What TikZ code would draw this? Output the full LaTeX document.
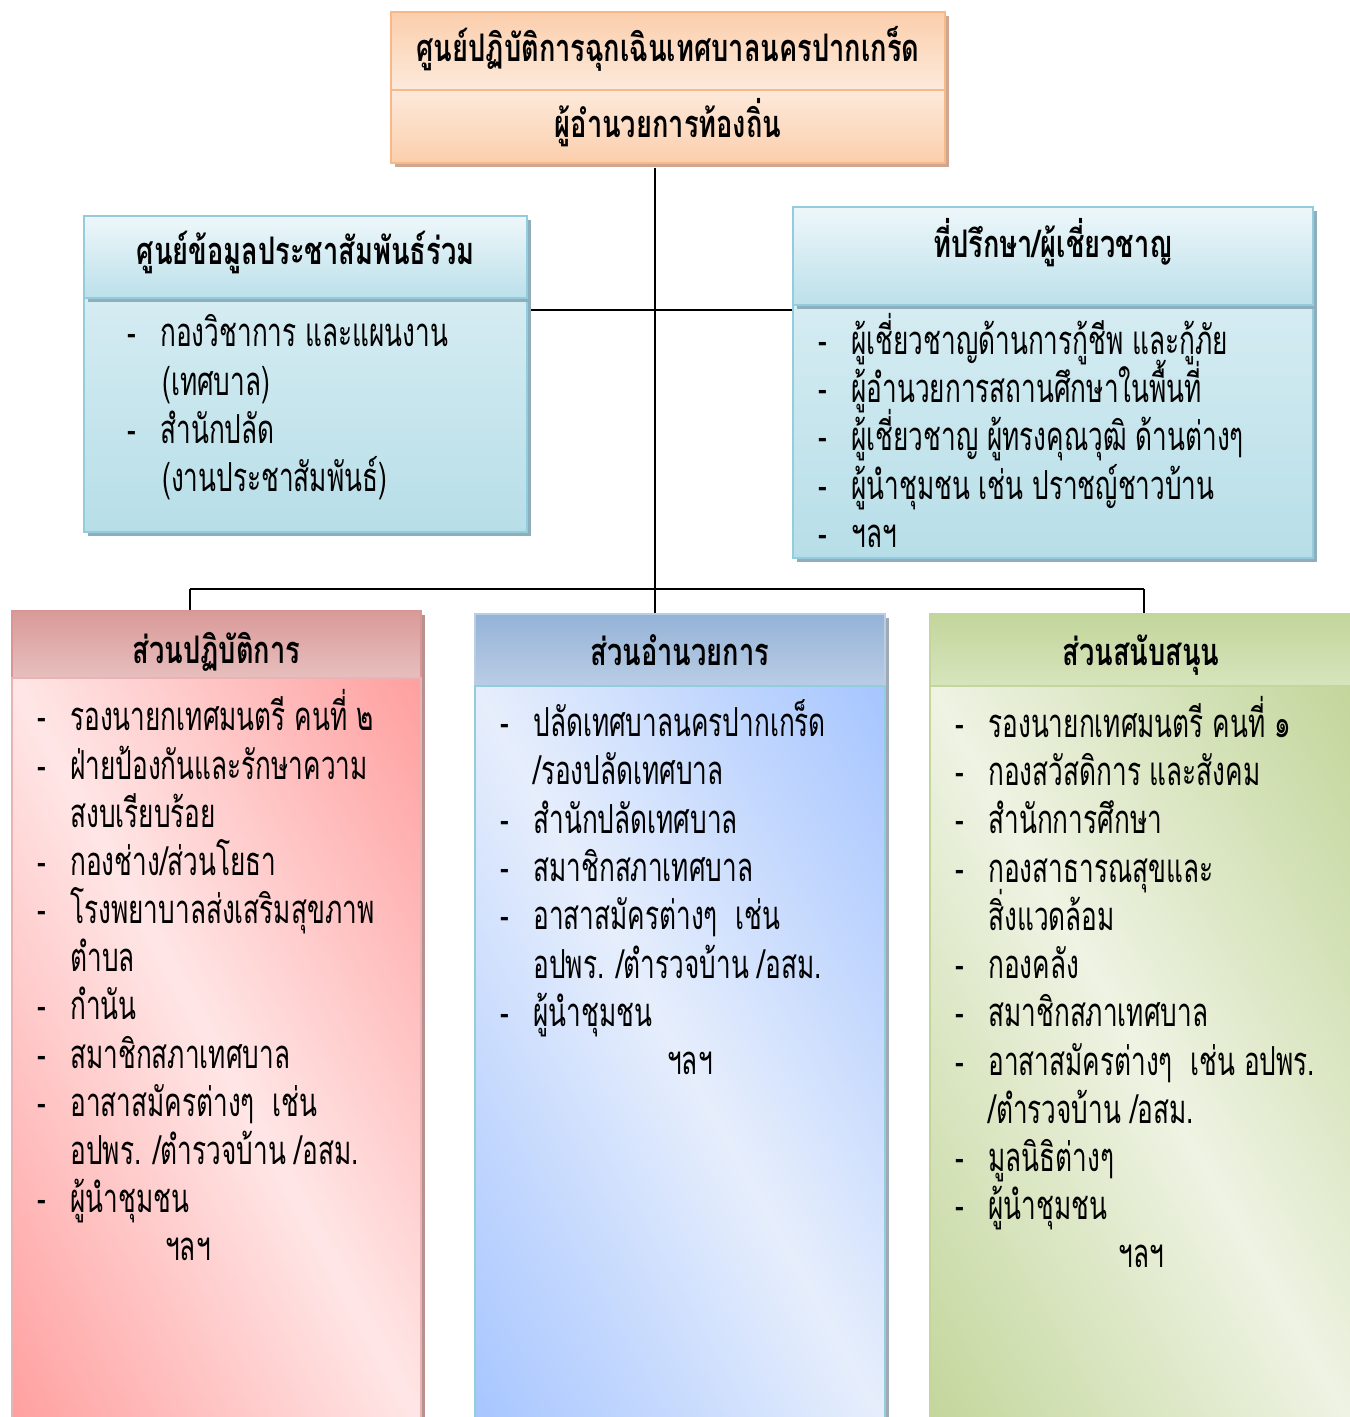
\documentclass[tikz,border=0pt]{standalone}
\usepackage{fontspec}
\setmainfont[Script=Thai]{Loma}
\newfontfamily\thai[Script=Thai,FakeStretch=0.655]{Loma}
\newfontfamily\thaih[Script=Thai,FakeStretch=0.717]{Loma}
\usetikzlibrary{fit}
\definecolor{pkB}{HTML}{F8B88A}
\definecolor{pkA}{HTML}{FBCEAC}
\definecolor{pkL}{HTML}{FDEADB}
\definecolor{pkS}{HTML}{CDA88E}
\definecolor{cyB}{HTML}{93CDDD}
\definecolor{cyL}{HTML}{EEF7FA}
\definecolor{cyH}{HTML}{BCE0EA}
\definecolor{cyT}{HTML}{D5ECF2}
\definecolor{cyM}{HTML}{B7DEE8}
\definecolor{cyS}{HTML}{8DAEBA}
\definecolor{rdB}{HTML}{D99694}
\definecolor{rdE}{HTML}{E8B4B3}
\definecolor{rdD}{HTML}{FF9F9F}
\definecolor{rdL}{HTML}{FFE6E6}
\definecolor{rhT}{HTML}{D99A98}
\definecolor{rhM}{HTML}{F2DCDB}
\definecolor{rhB}{HTML}{E7BFBE}
\definecolor{rdS}{HTML}{B8908F}
\definecolor{blB}{HTML}{92CDDC}
\definecolor{blD}{HTML}{A6C5FF}
\definecolor{blL}{HTML}{E6EEFC}
\definecolor{bhT}{HTML}{95B3D7}
\definecolor{bhM}{HTML}{DCE6F2}
\definecolor{bhB}{HTML}{B9CDE5}
\definecolor{blS}{HTML}{A0AAB5}
\definecolor{grB}{HTML}{C3D69B}
\definecolor{grD}{HTML}{C3D69B}
\definecolor{grL}{HTML}{EEF3E3}
\definecolor{ghT}{HTML}{C3D69B}
\definecolor{ghM}{HTML}{EBF1DE}
\definecolor{ghB}{HTML}{D7E4BD}
\tikzset{
  sect/.style={inner sep=0pt, line width=0.75pt},
  bodytxt/.style={font=\thai\fontsize{20}{24}\selectfont, anchor=base west, inner sep=0pt},
  headtxt/.style={font=\thaih\bfseries\fontsize{19}{22}\selectfont, anchor=base, inner sep=0pt},
  link/.style={line width=1pt, black}
}
\newcommand\itm[4]{\node[bodytxt] (#1) at (#2,#3) {\makebox[16.5pt][l]{-}#4};}
\newcommand\cnt[4]{\node[bodytxt] (#1) at (#2,#3) {#4};}
\begin{document}
\begin{tikzpicture}[x=0.5pt,y=-0.5pt]
\useasboundingbox (0,0) rectangle (1349,1417);
\fill[white] (0,0) rectangle (1349,1417);

% ---------- top box
\fill[pkS] (395,16) rectangle (949,94);
\node[sect, fit={(391,12)(945,90)}, draw=pkB, top color=pkA, bottom color=pkL] (topA) {};
\fill[pkS] (395,94) rectangle (949,167);
\node[sect, fit={(391,90)(945,163)}, draw=pkB, top color=pkL, bottom color=pkA] (topB) {};
\node[headtxt] (t1) at (668,62) {ศูนย์ปฏิบัติการฉุกเฉินเทศบาลนครปากเกร็ด};
\node[headtxt] (t2) at (668,138) {ผู้อำนวยการท้องถิ่น};

% ---------- left box
\fill[cyS] (88,302) rectangle (531,536);
\node[sect, fit={(84,298)(527,532)}, draw=cyB, top color=cyT, bottom color=cyM] (lB) {};
\fill[cyS] (88,220) rectangle (531,302);
\node[sect, fit={(84,216)(527,298)}, draw=cyB, top color=cyL, bottom color=cyH] (lH) {};
\node[headtxt] (lh) at (305.5,265) {ศูนย์ข้อมูลประชาสัมพันธ์ร่วม};
\itm{l1}{127}{347}{กองวิชาการ และแผนงาน}
\cnt{l2}{162}{395}{(เทศบาล)}
\itm{l3}{127}{443}{สำนักปลัด}
\cnt{l4}{162}{491}{(งานประชาสัมพันธ์)}

% ---------- right box
\fill[cyS] (797,309) rectangle (1317,562);
\node[sect, fit={(793,305)(1313,558)}, draw=cyB, top color=cyT, bottom color=cyM] (rB) {};
\fill[cyS] (797,211) rectangle (1317,309);
\node[sect, fit={(793,207)(1313,305)}, draw=cyB, top color=cyL, bottom color=cyH] (rH) {};
\node[headtxt] (rh) at (1053,258) {ที่ปรึกษา/ผู้เชี่ยวชาญ};
\itm{q1}{818}{354}{ผู้เชี่ยวชาญด้านการกู้ชีพ และกู้ภัย}
\itm{q2}{818}{402}{ผู้อำนวยการสถานศึกษาในพื้นที่}
\itm{q3}{818}{450}{ผู้เชี่ยวชาญ ผู้ทรงคุณวุฒิ ด้านต่างๆ}
\itm{q4}{818}{499}{ผู้นำชุมชน เช่น ปราชญ์ชาวบ้าน}
\itm{q5}{818}{547}{ฯลฯ}

% ---------- red box
\fill[rdS] (16,615) rectangle (425,682);
\node[sect, fit={(12,611)(421,678)}, draw=rdB, top color=rhT, middle color=rhM, bottom color=rhB] (pH) {};
\fill[rdS] (16,682) rectangle (425,1430);
\begin{scope}
\clip (12,678) rectangle (421,1425);
\begin{scope}[transform canvas={rotate around={-61.3:(216.5,1051.5)}}]
\shade[top color=rdD, bottom color=rdD, middle color=rdL] (216.5,1051.5) +(-460,-359) rectangle +(460,359);
\end{scope}
\end{scope}
\node[sect, fit={(12,678)(421,1425)}, draw=rdE] (pB) {};
\node[headtxt] (ph) at (216.5,663) {ส่วนปฏิบัติการ};
\itm{p1}{37}{730}{รองนายกเทศมนตรี คนที่ ๒}
\itm{p2}{37}{779}{ฝ่ายป้องกันและรักษาความ}
\cnt{p3}{70}{827}{สงบเรียบร้อย}
\itm{p4}{37}{875}{กองช่าง/ส่วนโยธา}
\itm{p5}{37}{923}{โรงพยาบาลส่งเสริมสุขภาพ}
\cnt{p6}{70}{971}{ตำบล}
\itm{p7}{37}{1019}{กำนัน}
\itm{p8}{37}{1068}{สมาชิกสภาเทศบาล}
\itm{p9}{37}{1116}{อาสาสมัครต่างๆ\ \ เช่น}
\cnt{p10}{70}{1164}{อปพร. /ตำรวจบ้าน /อสม.}
\itm{p11}{37}{1212}{ผู้นำชุมชน}
\node[bodytxt, anchor=base] (p12) at (188,1260) {ฯลฯ};

% ---------- blue box
\fill[blS] (479,618) rectangle (889,690);
\node[sect, fit={(475,614)(885,686)}, draw=bhB, top color=bhT, middle color=bhM, bottom color=bhB] (bH) {};
\fill[blS] (479,690) rectangle (889,1430);
\begin{scope}
\clip (475,686) rectangle (885,1425);
\begin{scope}[transform canvas={rotate around={-61:(680,1055.5)}}]
\shade[top color=blD, bottom color=blD, middle color=blL] (680,1055.5) +(-460,-359) rectangle +(460,359);
\end{scope}
\end{scope}
\node[sect, fit={(475,686)(885,1425)}, draw=blB] (bB) {};
\node[headtxt] (bh) at (680,665) {ส่วนอำนวยการ};
\itm{b1}{500}{736}{ปลัดเทศบาลนครปากเกร็ด}
\cnt{b2}{533}{784}{/รองปลัดเทศบาล}
\itm{b3}{500}{833}{สำนักปลัดเทศบาล}
\itm{b4}{500}{881}{สมาชิกสภาเทศบาล}
\itm{b5}{500}{929}{อาสาสมัครต่างๆ\ \ เช่น}
\cnt{b6}{533}{978}{อปพร. /ตำรวจบ้าน /อสม.}
\itm{b7}{500}{1026}{ผู้นำชุมชน}
\node[bodytxt, anchor=base] (b8) at (690,1074) {ฯลฯ};

% ---------- green box
\node[sect, fit={(930,614)(1352,686)}, draw=grB, top color=ghT, middle color=ghM, bottom color=ghB] (gH) {};
\begin{scope}
\clip (930,686) rectangle (1352,1425);
\begin{scope}[transform canvas={rotate around={-60.3:(1141,1055.5)}}]
\shade[top color=grD, bottom color=grD, middle color=grL] (1141,1055.5) +(-470,-366) rectangle +(470,366);
\end{scope}
\end{scope}
\node[sect, fit={(930,686)(1352,1425)}, draw=grB] (gB) {};
\node[headtxt] (gh) at (1141,665) {ส่วนสนับสนุน};
\itm{g1}{955}{737}{รองนายกเทศมนตรี คนที่ ๑}
\itm{g2}{955}{785}{กองสวัสดิการ และสังคม}
\itm{g3}{955}{833}{สำนักการศึกษา}
\itm{g4}{955}{882}{กองสาธารณสุขและ}
\cnt{g5}{988}{930}{สิ่งแวดล้อม}
\itm{g6}{955}{978}{กองคลัง}
\itm{g7}{955}{1026}{สมาชิกสภาเทศบาล}
\itm{g8}{955}{1075}{อาสาสมัครต่างๆ\ \ เช่น อปพร.}
\cnt{g9}{988}{1123}{/ตำรวจบ้าน /อสม.}
\itm{g10}{955}{1171}{มูลนิธิต่างๆ}
\itm{g11}{955}{1219}{ผู้นำชุมชน}
\node[bodytxt, anchor=base] (g12) at (1141,1267) {ฯลฯ};

% ---------- connectors
\coordinate (tx) at (655,0);
\coordinate (hy) at (0,310);
\coordinate (bL) at (190,589);
\coordinate (bR) at (1144,589);
\draw[link] (topB.south -| tx) ++(0,4) -- (tx |- bH.north);
\draw[link] (lB.east |- hy) ++(3,0) -- (rB.west |- hy);
\draw[link] (bL) -- (bR);
\draw[link] (bL) -- (bL |- pH.north);
\draw[link] (bR) -- (bR |- gH.north);
\end{tikzpicture}
\end{document}
